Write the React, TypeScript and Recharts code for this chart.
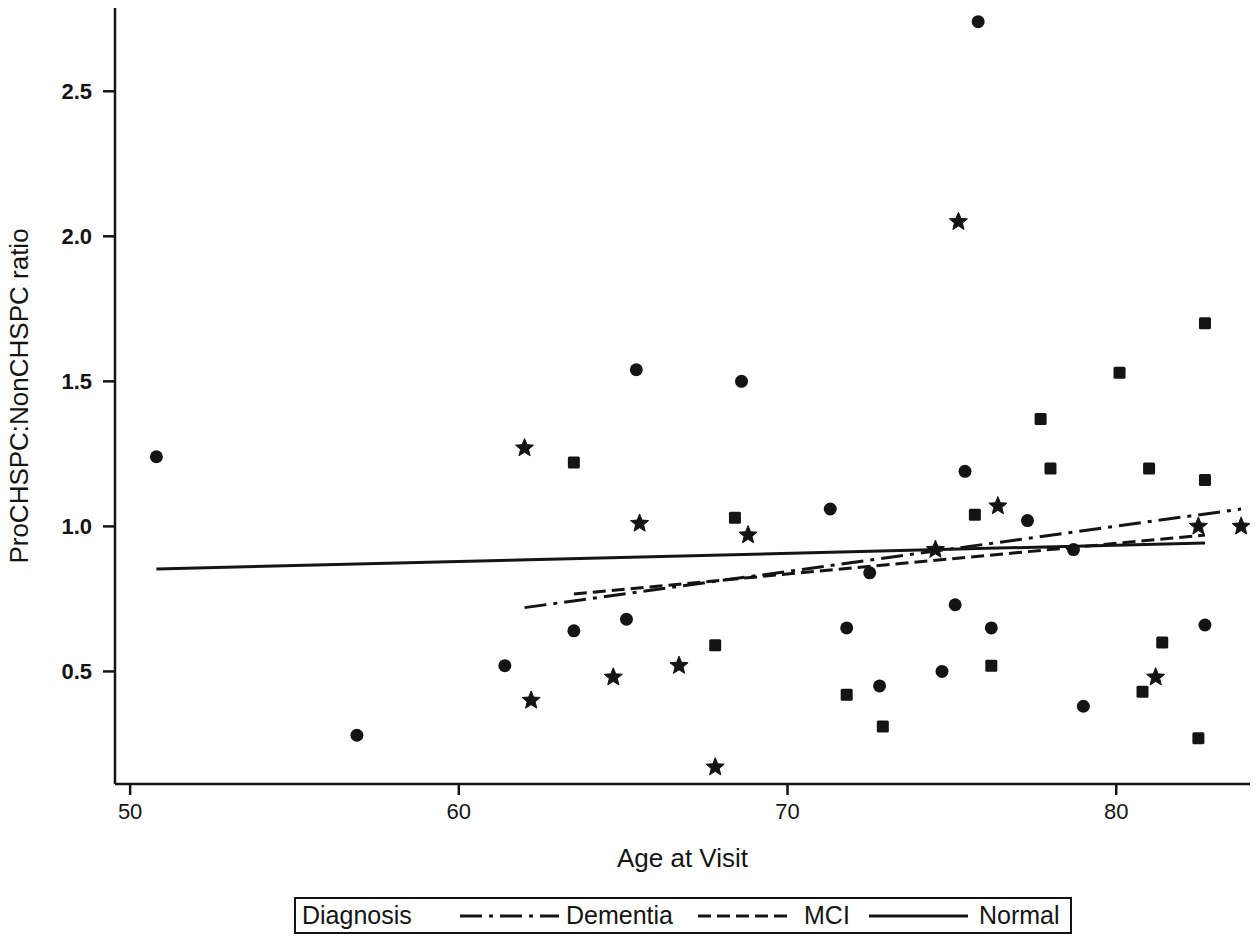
import React from "react";
import { ComposedChart, Scatter, XAxis, YAxis, Legend } from "recharts";

// Normal (circles)
const normalAge = [50.8, 56.9, 61.4, 63.5, 65.1, 65.4, 68.6, 71.3, 71.8, 72.5, 72.8, 74.7, 75.1, 75.4, 75.8, 76.2, 77.3, 78.7, 79.0, 82.7];
const normalRatio = [1.24, 0.28, 0.52, 0.64, 0.68, 1.54, 1.5, 1.06, 0.65, 0.84, 0.45, 0.5, 0.73, 1.19, 2.74, 0.65, 1.02, 0.92, 0.38, 0.66];

// MCI (squares)
const mciAge = [63.5, 67.8, 68.4, 71.8, 72.9, 75.7, 76.2, 77.7, 78.0, 80.1, 80.8, 81.0, 81.4, 82.5, 82.7, 82.7];
const mciRatio = [1.22, 0.59, 1.03, 0.42, 0.31, 1.04, 0.52, 1.37, 1.2, 1.53, 0.43, 1.2, 0.6, 0.27, 1.16, 1.7];

// Dementia (stars)
const dementiaAge = [62.0, 62.2, 64.7, 65.5, 66.7, 67.8, 68.8, 74.5, 75.2, 76.4, 81.2, 82.5, 83.8];
const dementiaRatio = [1.27, 0.4, 0.48, 1.01, 0.52, 0.17, 0.97, 0.92, 2.05, 1.07, 0.48, 1.0, 1.0];

// fitted lines (end points)
const normalFitAge = [50.8, 82.7];
const normalFitRatio = [0.853, 0.943];
const mciFitAge = [63.5, 82.7];
const mciFitRatio = [0.767, 0.97];
const dementiaFitAge = [62.0, 83.8];
const dementiaFitRatio = [0.72, 1.06];

const xTicks = [50, 60, 70, 80];
const yTicks = [0.5, 1.0, 1.5, 2.0, 2.5];
const legendTitle = "Diagnosis";
const legendLabels = ["Dementia", "MCI", "Normal"];

const INK = "#141414";
const FONT = "'Liberation Sans', Arial, sans-serif";

const toPoints = (xs: number[], ys: number[]) =>
  xs.map((x, i) => ({ age: x, ratio: ys[i] }));

const normal = toPoints(normalAge, normalRatio);
const mci = toPoints(mciAge, mciRatio);
const dementia = toPoints(dementiaAge, dementiaRatio);
const normalFit = toPoints(normalFitAge, normalFitRatio);
const mciFit = toPoints(mciFitAge, mciFitRatio);
const dementiaFit = toPoints(dementiaFitAge, dementiaFitRatio);

const dashes: Record<string, string | undefined> = {
  Dementia: "22 7 4 7",
  MCI: "13 6",
  Normal: undefined,
};

function Dot(props: any) {
  return <circle cx={props.cx} cy={props.cy} r={6.5} fill={INK} />;
}

function Square(props: any) {
  return <rect x={props.cx - 6} y={props.cy - 6} width={12} height={12} rx={1.5} fill={INK} />;
}

function Star(props: any) {
  const { cx, cy } = props;
  const pts: string[] = [];
  for (let i = 0; i < 10; i++) {
    const r = i % 2 === 0 ? 9.5 : 4.2;
    const a = -Math.PI / 2 + (i * Math.PI) / 5;
    pts.push(`${cx + r * Math.cos(a)},${cy + r * Math.sin(a)}`);
  }
  return <polygon points={pts.join(" ")} fill={INK} stroke={INK} strokeWidth={1} strokeLinejoin="round" />;
}

const NoMark = () => <g />;

function DiagnosisLegend() {
  // x offsets of sample lines and labels inside the box
  const lineLeft = [164, 402, 573];
  const lineWidth = [99, 94, 99];
  const textLeft = [270, 508, 683];
  return (
    <div
      style={{
        position: "relative",
        boxSizing: "border-box",
        width: 778,
        height: 37,
        border: `2px solid ${INK}`,
        fontFamily: FONT,
        fontSize: 25,
        color: INK,
        lineHeight: "33px",
      }}
    >
      <span style={{ position: "absolute", left: 6, top: 0 }}>{legendTitle}</span>
      {legendLabels.map((name, i) => (
        <React.Fragment key={name}>
          <svg
            width={lineWidth[i]}
            height={10}
            style={{ position: "absolute", left: lineLeft[i], top: 12 }}
          >
            <line
              x1={0}
              x2={lineWidth[i]}
              y1={5}
              y2={5}
              stroke={INK}
              strokeWidth={3}
              strokeDasharray={dashes[name]}
            />
          </svg>
          <span style={{ position: "absolute", left: textLeft[i], top: 0 }}>{name}</span>
        </React.Fragment>
      ))}
    </div>
  );
}

function XTitle(props: any) {
  const vb = props.viewBox;
  return (
    <text
      x={vb.x + vb.width / 2}
      y={vb.y + 74}
      textAnchor="middle"
      dominantBaseline="central"
      fontFamily={FONT}
      fontSize={26}
      fill={INK}
    >
      Age at Visit
    </text>
  );
}

function YTitle(props: any) {
  const vb = props.viewBox;
  const cx = vb.x + 19;
  const cy = vb.y + vb.height / 2;
  return (
    <text
      x={cx}
      y={cy}
      transform={`rotate(-90, ${cx}, ${cy})`}
      textAnchor="middle"
      dominantBaseline="central"
      fontFamily={FONT}
      fontSize={26}
      fill={INK}
    >
      ProCHSPC:NonCHSPC ratio
    </text>
  );
}

export default function App() {
  const axisStyle = { stroke: INK, strokeWidth: 2.5 };
  return (
    <div style={{ position: "absolute", left: 0, top: 0, background: "#fff" }}>
      <ComposedChart
        width={1260}
        height={944}
        margin={{ top: 8, right: 10, left: 0, bottom: 0 }}
      >
        <XAxis
          type="number"
          dataKey="age"
          domain={[49.54, 84.07]}
          ticks={xTicks}
          allowDataOverflow
          height={123}
          axisLine={axisStyle}
          tickLine={axisStyle}
          tickSize={11}
          tickMargin={8}
          tick={{ fill: INK, fontSize: 22, fontFamily: FONT }}
          label={{ content: (p: any) => <XTitle {...p} /> }}
        />
        <YAxis
          type="number"
          dataKey="ratio"
          domain={[0.112, 2.787]}
          ticks={yTicks}
          allowDataOverflow
          width={115}
          axisLine={axisStyle}
          tickLine={axisStyle}
          tickSize={12}
          tickMargin={11}
          tickFormatter={(v: number) => v.toFixed(1)}
          tick={{ fill: INK, fontSize: 22, fontWeight: 700, fontFamily: FONT }}
          label={{ content: (p: any) => <YTitle {...p} /> }}
        />
        <Legend
          content={() => <DiagnosisLegend />}
          wrapperStyle={{ top: 897, left: 294, width: 778, height: 37, bottom: undefined }}
        />
        <Scatter
          data={normalFit}
          fill={INK}
          line={{ stroke: INK, strokeWidth: 3 }}
          shape={NoMark}
          isAnimationActive={false}
        />
        <Scatter
          data={mciFit}
          fill={INK}
          line={{ stroke: INK, strokeWidth: 3, strokeDasharray: dashes.MCI }}
          shape={NoMark}
          isAnimationActive={false}
        />
        <Scatter
          data={dementiaFit}
          fill={INK}
          line={{ stroke: INK, strokeWidth: 3, strokeDasharray: dashes.Dementia }}
          shape={NoMark}
          isAnimationActive={false}
        />
        <Scatter data={normal} fill={INK} shape={Dot} isAnimationActive={false} />
        <Scatter data={mci} fill={INK} shape={Square} isAnimationActive={false} />
        <Scatter data={dementia} fill={INK} shape={Star} isAnimationActive={false} />
      </ComposedChart>
    </div>
  );
}
